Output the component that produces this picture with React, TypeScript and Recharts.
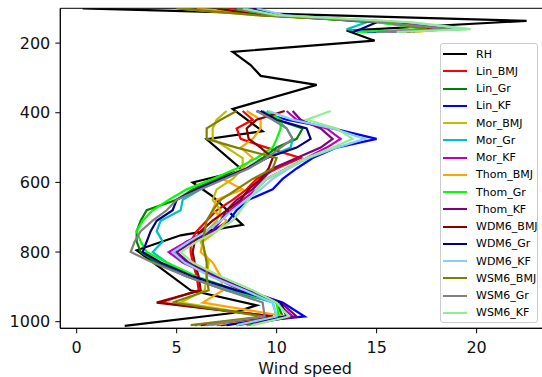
import React from 'react';
import { LineChart, Line, XAxis, YAxis, ReferenceArea, Legend } from 'recharts';

// Radiosonde (RH) profile: pressure levels (hPa) and wind speed
const rhLevels = [100, 136, 164, 193, 225, 263, 294, 320, 389, 453, 476, 565, 600, 640, 722, 752, 795, 910, 953, 975, 1012];
const rhSpeed = [0.3, 22.5, 13.5, 14.9, 7.8, 8.7, 9.2, 12.0, 7.8, 9.3, 6.5, 8.3, 5.8, 6.8, 8.3, 5.2, 3.0, 5.7, 9.0, 7.8, 2.4];

// Model pressure levels (hPa); null marks the data gap between the upper and lower segments
const modelLevels = [100, 120, 140, 160, 168, null, 395, 420, 445, 475, 500, 530, 560, 590, 620, 650, 680, 710, 740, 770, 800, 830, 870, 910, 945, 985, 1010];

const linBMJ = [7.5, 9.8, 15.5, 18.5, 15.0, null, 8.3, 8.8, 8.0, 8.2, 9.5, 11.2, 10.0, 9.0, 8.5, 7.8, 7.0, 6.5, 6.0, 5.7, 5.7, 5.8, 6.0, 6.1, 4.2, 9.8, 5.9];
const linGr = [8.0, 9.5, 15.0, 18.3, 14.8, null, 9.0, 10.0, 11.3, 11.0, 10.0, 9.3, 8.5, 7.0, 5.8, 5.0, 3.5, 3.2, 3.0, 3.0, 3.2, 4.0, 5.5, 7.5, 10.0, 10.3, 7.0];
const linKF = [8.5, 10.2, 15.8, 18.8, 14.5, null, 9.0, 10.5, 12.8, 15.0, 13.0, 11.8, 11.0, 10.3, 9.8, 8.6, 8.0, 7.6, 6.8, 5.5, 4.8, 5.5, 6.8, 8.5, 10.3, 11.4, 7.2];
const morBMJ = [5.0, 9.0, 15.5, 18.0, 16.0, null, 7.5, 7.0, 6.8, 6.8, 7.5, 8.3, 8.3, 7.8, 7.0, 6.8, 7.2, 7.0, 6.5, 6.2, 6.4, 6.6, 6.5, 6.4, 5.2, 9.5, 6.0];
const morGr = [8.5, 10.3, 14.5, 13.5, 14.5, null, 9.3, 10.0, 10.5, 10.8, 10.7, 9.5, 8.5, 7.3, 6.2, 5.3, 5.2, 4.2, 4.0, 4.3, 3.8, 4.5, 5.8, 7.8, 9.8, 10.0, 8.0];
const morKF = [8.8, 10.0, 16.0, 19.0, 15.5, null, 10.5, 11.0, 12.5, 13.2, 12.5, 11.5, 10.5, 9.5, 9.0, 8.3, 7.7, 7.2, 6.5, 5.5, 4.6, 5.3, 6.8, 8.2, 10.0, 10.8, 8.5];
const thomBMJ = [6.0, 9.5, 16.0, 18.2, 17.0, null, 8.5, 9.2, 9.2, 8.8, 8.2, 8.8, 8.3, 7.3, 8.3, 7.0, 6.8, 7.5, 7.0, 6.3, 6.2, 6.8, 7.2, 7.3, 6.3, 10.5, 6.7];
const thomGr = [7.0, 9.5, 15.0, 17.5, 14.0, null, 9.5, 10.2, 10.2, 10.0, 9.8, 9.0, 8.0, 6.8, 5.5, 4.6, 3.8, 3.3, 3.0, 3.2, 3.5, 4.5, 6.0, 8.0, 10.0, 10.1, 8.5];
const thomKF = [8.6, 10.1, 16.2, 19.2, 15.2, null, 10.8, 11.2, 12.2, 12.8, 12.2, 11.0, 9.8, 9.3, 8.8, 8.0, 7.5, 7.2, 6.8, 5.8, 5.0, 5.6, 7.0, 8.5, 10.2, 11.0, 8.0];
const wdm6BMJ = [7.0, 9.2, 15.8, 17.8, 16.5, null, 10.4, 9.0, 8.5, 8.6, 9.2, 9.8, 9.6, 9.2, 8.6, 8.2, 7.5, 6.8, 6.2, 5.9, 5.8, 5.9, 6.1, 6.2, 4.0, 9.8, 6.2];
const wdm6Gr = [8.8, 10.0, 15.0, 14.2, 13.8, null, 9.2, 10.0, 11.5, 11.7, 11.0, 9.5, 8.5, 7.2, 6.0, 5.0, 4.8, 4.0, 3.7, 3.5, 3.3, 4.2, 5.8, 8.0, 10.2, 10.5, 7.5];
const wdm6KF = [9.0, 10.4, 16.5, 19.5, 15.0, null, 9.6, 10.8, 12.8, 14.4, 13.0, 11.6, 10.6, 9.8, 9.2, 8.5, 7.8, 7.2, 6.5, 5.6, 4.8, 5.4, 6.7, 8.4, 9.8, 10.0, 8.0];
const wsm6BMJ = [5.0, 9.0, 15.5, 17.5, 16.8, null, 8.0, 7.2, 6.5, 6.5, 8.0, 10.0, 9.8, 8.8, 8.0, 7.2, 6.8, 6.5, 6.4, 6.3, 6.4, 6.5, 6.5, 6.6, 4.8, 9.3, 5.7];
const wsm6Gr = [8.0, 9.8, 15.2, 18.6, 15.0, null, 9.0, 9.8, 10.5, 10.8, 10.2, 9.5, 8.6, 7.4, 6.2, 5.0, 4.5, 3.8, 3.2, 2.9, 2.7, 3.8, 5.5, 7.5, 9.3, 9.4, 6.5];
const wsm6KF = [8.3, 10.0, 16.8, 19.7, 16.0, null, 12.7, 11.5, 13.0, 13.8, 12.8, 11.5, 10.5, 9.5, 9.0, 8.6, 8.2, 7.8, 7.0, 6.0, 5.2, 5.8, 7.2, 8.8, 10.0, 10.6, 8.8];

const modelNames = ['Lin_BMJ', 'Lin_Gr', 'Lin_KF', 'Mor_BMJ', 'Mor_Gr', 'Mor_KF', 'Thom_BMJ', 'Thom_Gr', 'Thom_KF', 'WDM6_BMJ', 'WDM6_Gr', 'WDM6_KF', 'WSM6_BMJ', 'WSM6_Gr', 'WSM6_KF'];
const modelValues = [linBMJ, linGr, linKF, morBMJ, morGr, morKF, thomBMJ, thomGr, thomKF, wdm6BMJ, wdm6Gr, wdm6KF, wsm6BMJ, wsm6Gr, wsm6KF];
const modelColors = ['#ff0000', '#008000', '#0000ff', '#bfbf00', '#00bfbf', '#bf00bf', '#ffa500', '#00ff00', '#800080', '#8b0000', '#000080', '#87cefa', '#808000', '#808080', '#90ee90'];

const xTicks = [0, 5, 10, 15, 20];
const yTicks = [200, 400, 600, 800, 1000];

const rhRows = rhLevels.map((p, i) => ({ p, v: rhSpeed[i] }));
const allRows = modelLevels.map((p, i) => {
  const row: Record<string, number | null> = { p };
  modelNames.forEach((n, k) => { row[n] = modelValues[k][i]; });
  return row;
});
const gapIdx = modelLevels.indexOf(null);
const upperRows = allRows.slice(0, gapIdx);
const lowerRows = allRows.slice(gapIdx + 1);

const legendNames = ['RH', ...modelNames];
const legendColors = ['#000000', ...modelColors];

const renderLegend = () => (
  <div style={{ width: 98, height: 280, border: '1px solid #cccccc', borderRadius: 3, background: 'rgba(255,255,255,0.85)', boxSizing: 'border-box', position: 'relative', fontFamily: 'DejaVu Sans', fontSize: 11, color: '#000' }}>
    {legendNames.map((n, i) => (
      <div key={n} style={{ position: 'absolute', left: 0, top: 10 + i * 17.25 - 8, height: 16, display: 'flex', alignItems: 'center', whiteSpace: 'nowrap' }}>
        <svg width={24} height={4} style={{ marginLeft: 2 }}>
          <line x1={0} y1={2} x2={24} y2={2} stroke={legendColors[i]} strokeWidth={2} />
        </svg>
        <span style={{ marginLeft: 9 }}>{n}</span>
      </div>
    ))}
  </div>
);

const X0 = -0.82;
const X1 = 23.67;
const Y0 = 100;
const Y1 = 1019;

export default function App() {
  return (
    <div style={{ position: 'fixed', left: 0, top: 0, width: 542, height: 377, overflow: 'hidden', background: '#fff' }}>
      <LineChart
        width={560}
        height={377}
        layout="vertical"
        data={lowerRows}
        margin={{ top: 8.3, right: 10, left: 0.3, bottom: 0 }}
        style={{ fontFamily: 'DejaVu Sans' }}
      >
        <XAxis
          type="number"
          domain={[X0, X1]}
          ticks={xTicks}
          allowDataOverflow
          interval={0}
          tickSize={5}
          tickMargin={8}
          height={48.7}
          stroke="#000"
          tick={{ fontSize: 16, fill: '#111', fontFamily: 'DejaVu Sans' }}
          label={{ value: 'Wind speed', position: 'insideBottom', offset: 3, fontSize: 16, fill: '#111', fontFamily: 'DejaVu Sans' }}
        />
        <YAxis
          type="number"
          dataKey="p"
          domain={[Y0, Y1]}
          ticks={yTicks}
          allowDataOverflow
          interval={0}
          width={60}
          tickSize={5}
          tickMargin={5}
          stroke="#000"
          tick={{ fontSize: 16, fill: '#111', fontFamily: 'DejaVu Sans' }}
        />
        <ReferenceArea x1={X0} x2={X1} y1={Y0} y2={Y1} fill="none" stroke="#000" strokeWidth={1} />
        <Line data={rhRows} dataKey="v" name="RH" stroke="#000000" strokeWidth={2.2} dot={false} isAnimationActive={false} />
        {modelNames.map((n, k) => (
          <Line key={n + '_up'} data={upperRows} dataKey={n} name={n} legendType="none" stroke={modelColors[k]} strokeWidth={2.2} dot={false} isAnimationActive={false} />
        ))}
        {modelNames.map((n, k) => (
          <Line key={n} data={lowerRows} dataKey={n} name={n} stroke={modelColors[k]} strokeWidth={2.2} dot={false} isAnimationActive={false} />
        ))}
        <Legend
          layout="vertical"
          align="center"
          verticalAlign="middle"
          content={renderLegend}
          wrapperStyle={{ left: 440, top: 43, width: 98, height: 280 }}
        />
      </LineChart>
    </div>
  );
}
